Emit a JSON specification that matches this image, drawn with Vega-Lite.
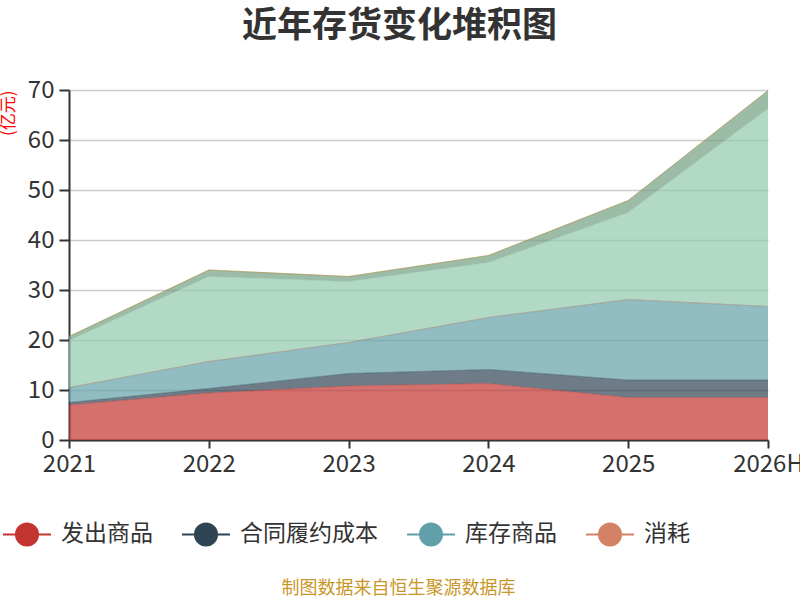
{
  "$schema": "https://vega.github.io/schema/vega-lite/v6.json",
  "autosize": {"type": "none"},
  "width": 699,
  "height": 350,
  "padding": {"left": 69, "top": 90, "right": 32, "bottom": 160},
  "title": {
    "text": "近年存货变化堆积图",
    "fontSize": 35,
    "fontWeight": "bold",
    "color": "#333333",
    "font": "Noto Sans CJK SC",
    "anchor": "middle",
    "frame": "group",
    "offset": 34,
    "dx": -19
  },
  "data": {
    "values": [
      {"年份": "2021", "类别": "发出商品", "序号": 1, "金额": 7.0},
      {"年份": "2022", "类别": "发出商品", "序号": 1, "金额": 9.4},
      {"年份": "2023", "类别": "发出商品", "序号": 1, "金额": 10.8},
      {"年份": "2024", "类别": "发出商品", "序号": 1, "金额": 11.3},
      {"年份": "2025", "类别": "发出商品", "序号": 1, "金额": 8.5},
      {"年份": "2026H", "类别": "发出商品", "序号": 1, "金额": 8.5},
      {"年份": "2021", "类别": "合同履约成本", "序号": 2, "金额": 0.5},
      {"年份": "2022", "类别": "合同履约成本", "序号": 2, "金额": 0.9},
      {"年份": "2023", "类别": "合同履约成本", "序号": 2, "金额": 2.5},
      {"年份": "2024", "类别": "合同履约成本", "序号": 2, "金额": 2.8},
      {"年份": "2025", "类别": "合同履约成本", "序号": 2, "金额": 3.5},
      {"年份": "2026H", "类别": "合同履约成本", "序号": 2, "金额": 3.5},
      {"年份": "2021", "类别": "库存商品", "序号": 3, "金额": 3.0},
      {"年份": "2022", "类别": "库存商品", "序号": 3, "金额": 5.4},
      {"年份": "2023", "类别": "库存商品", "序号": 3, "金额": 6.2},
      {"年份": "2024", "类别": "库存商品", "序号": 3, "金额": 10.4},
      {"年份": "2025", "类别": "库存商品", "序号": 3, "金额": 16.1},
      {"年份": "2026H", "类别": "库存商品", "序号": 3, "金额": 14.7},
      {"年份": "2021", "类别": "消耗性生物资产", "序号": 4, "金额": 0},
      {"年份": "2022", "类别": "消耗性生物资产", "序号": 4, "金额": 0},
      {"年份": "2023", "类别": "消耗性生物资产", "序号": 4, "金额": 0},
      {"年份": "2024", "类别": "消耗性生物资产", "序号": 4, "金额": 0},
      {"年份": "2025", "类别": "消耗性生物资产", "序号": 4, "金额": 0},
      {"年份": "2026H", "类别": "消耗性生物资产", "序号": 4, "金额": 0},
      {"年份": "2021", "类别": "原材料", "序号": 5, "金额": 9.4},
      {"年份": "2022", "类别": "原材料", "序号": 5, "金额": 17.0},
      {"年份": "2023", "类别": "原材料", "序号": 5, "金额": 12.2},
      {"年份": "2024", "类别": "原材料", "序号": 5, "金额": 11.0},
      {"年份": "2025", "类别": "原材料", "序号": 5, "金额": 17.4},
      {"年份": "2026H", "类别": "原材料", "序号": 5, "金额": 39.6},
      {"年份": "2021", "类别": "在产品", "序号": 6, "金额": 0.8},
      {"年份": "2022", "类别": "在产品", "序号": 6, "金额": 1.3},
      {"年份": "2023", "类别": "在产品", "序号": 6, "金额": 1.0},
      {"年份": "2024", "类别": "在产品", "序号": 6, "金额": 1.4},
      {"年份": "2025", "类别": "在产品", "序号": 6, "金额": 2.4},
      {"年份": "2026H", "类别": "在产品", "序号": 6, "金额": 3.6},
      {"年份": "2021", "类别": "周转材料", "序号": 7, "金额": 0},
      {"年份": "2022", "类别": "周转材料", "序号": 7, "金额": 0},
      {"年份": "2023", "类别": "周转材料", "序号": 7, "金额": 0},
      {"年份": "2024", "类别": "周转材料", "序号": 7, "金额": 0},
      {"年份": "2025", "类别": "周转材料", "序号": 7, "金额": 0},
      {"年份": "2026H", "类别": "周转材料", "序号": 7, "金额": 0}
    ]
  },
  "mark": {"type": "area", "fillOpacity": 0.7, "line": {"strokeWidth": 0.7, "strokeOpacity": 0.6}},
  "encoding": {
    "x": {
      "field": "年份",
      "type": "ordinal",
      "sort": ["2021", "2022", "2023", "2024", "2025", "2026H"],
      "scale": {"type": "point", "padding": 0},
      "axis": {
        "labelAngle": 0,
        "grid": false,
        "tickSize": 8,
        "labelPadding": 4,
        "title": "制图数据来自恒生聚源数据库",
        "titleColor": "#c9962a",
        "titleFontSize": 18,
        "titleFontWeight": "normal",
        "titleX": 329,
        "titleY": 139,
        "titleBaseline": "top"
      }
    },
    "y": {
      "field": "金额",
      "type": "quantitative",
      "stack": "zero",
      "scale": {"domain": [0, 70], "nice": false},
      "axis": {
        "values": [0, 10, 20, 30, 40, 50, 60, 70],
        "tickSize": 10,
        "labelPadding": 5,
        "title": "(亿元)",
        "titleColor": "#ff0000",
        "titleFontSize": 17,
        "titleFontWeight": "normal",
        "titleAngle": -90,
        "titleX": -61,
        "titleY": 0,
        "titleAlign": "right",
        "titleBaseline": "middle"
      }
    },
    "order": {"field": "序号", "type": "quantitative", "sort": "ascending"},
    "color": {
      "field": "类别",
      "type": "nominal",
      "sort": ["发出商品", "合同履约成本", "库存商品", "消耗性生物资产", "原材料", "在产品", "周转材料"],
      "scale": {
        "domain": ["发出商品", "合同履约成本", "库存商品", "消耗性生物资产", "原材料", "在产品", "周转材料"],
        "range": ["#c23531", "#2f4554", "#61a0a8", "#d48265", "#91c7ae", "#749f83", "#ca8622"]
      },
      "legend": {
        "orient": "none",
        "legendX": -67,
        "legendY": 419,
        "direction": "horizontal",
        "title": null,
        "padding": 0,
        "values": ["发出商品", "合同履约成本", "库存商品", "消耗性生物资产"],
        "symbolType": "M-1,0H-0.46M0.46,0H1M-0.46,0A0.46,0.46 0 1,1 0.46,0A0.46,0.46 0 1,1 -0.46,0Z",
        "symbolSize": 2304,
        "symbolStrokeWidth": 2,
        "symbolOpacity": 1,
        "labelFontSize": 23,
        "labelColor": "#333333",
        "labelOffset": 9,
        "columnPadding": 25,
        "labelLimit": 300,
        "labelExpr": "datum.label == '消耗性生物资产' ? '消耗' : datum.label",
        "encode": {
          "symbols": {
            "update": {
              "stroke": {"scale": "color", "field": "value"},
              "fill": {"scale": "color", "field": "value"},
              "fillOpacity": {"value": 1},
              "opacity": {"value": 1}
            }
          }
        }
      }
    }
  },
  "config": {
    "view": {"stroke": null},
    "font": "Noto Sans CJK SC",
    "axis": {
      "labelFontSize": 24,
      "labelColor": "#333333",
      "labelFont": "Noto Sans CJK SC",
      "titleFont": "Noto Sans CJK SC",
      "domainColor": "#333333",
      "domainWidth": 2,
      "tickColor": "#333333",
      "tickWidth": 2,
      "gridColor": "#cccccc",
      "gridWidth": 1.5
    },
    "legend": {"labelFont": "Noto Sans CJK SC"}
  }
}
